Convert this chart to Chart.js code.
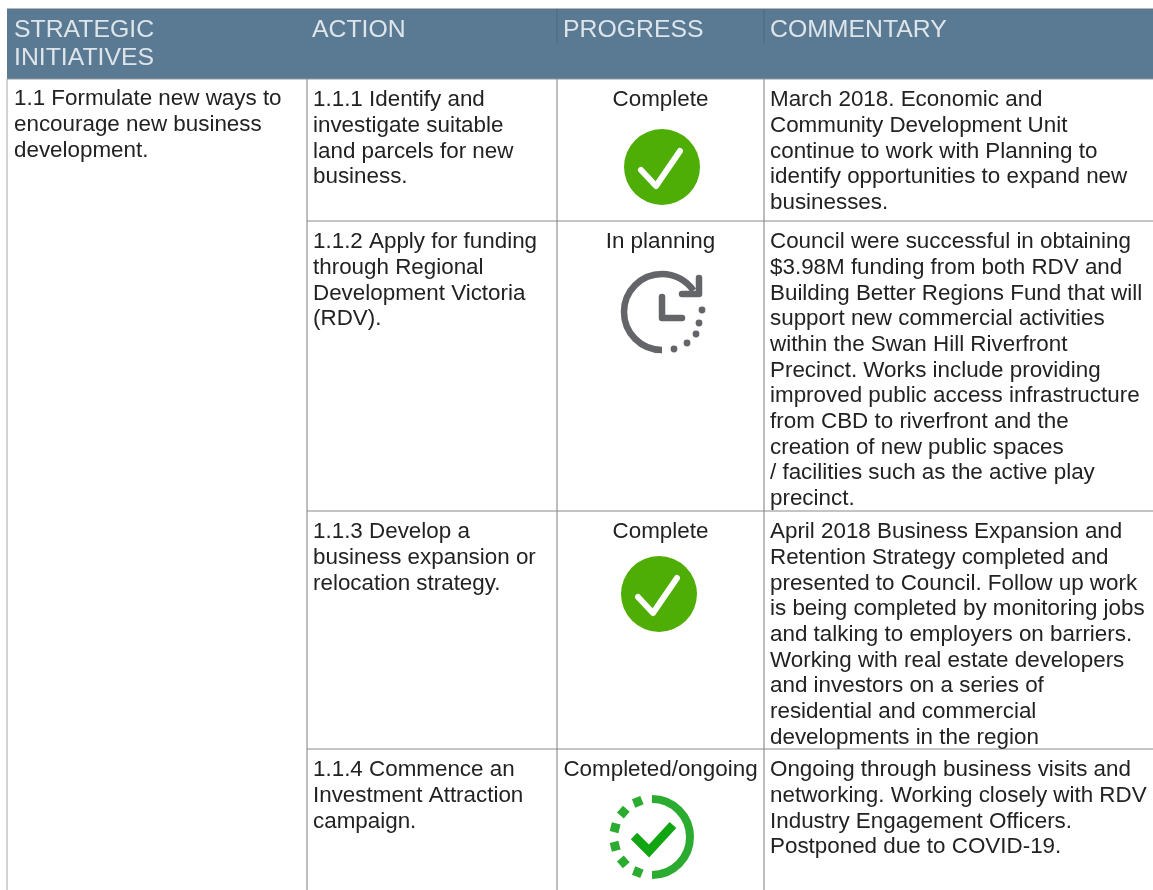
<!DOCTYPE html>
<html>
<head>
<meta charset="utf-8">
<title>Strategic initiatives</title>
<script src="https://cdn.jsdelivr.net/npm/chart.js@4"></script>
<style>
html,body{margin:0;padding:0;background:#fff;overflow:hidden}
canvas{display:block;filter:blur(.55px)}
</style>
</head>
<body>
<canvas id="table" width="1153" height="890"></canvas>
<script>
// table layout, in picture units
const colEdges=[7,307,557,764,1153];
const rowEdges=[79,221,511,749,890];
const headerTop=9;

const headers=[["STRATEGIC","INITIATIVES"],["ACTION"],["PROGRESS"],["COMMENTARY"]];
const initiative=["1.1 Formulate new ways to","encourage new business","development."];
const actions=[
  ["1.1.1 Identify and","investigate suitable","land parcels for new","business."],
  ["1.1.2 Apply for funding","through Regional","Development Victoria","(RDV)."],
  ["1.1.3 Develop a","business expansion or","relocation strategy."],
  ["1.1.4 Commence an","Investment Attraction","campaign."]
];
const progress=["Complete","In planning","Complete","Completed/ongoing"];
const commentary=[
  ["March 2018. Economic and","Community Development Unit","continue to work with Planning to","identify opportunities to expand new","businesses."],
  ["Council were successful in obtaining","$3.98M funding from both RDV and","Building Better Regions Fund that will","support new commercial activities","within the Swan Hill Riverfront","Precinct. Works include providing","improved public access infrastructure","from CBD to riverfront and the","creation of new public spaces","/ facilities such as the active play","precinct."],
  ["April 2018 Business Expansion and","Retention Strategy completed and","presented to Council. Follow up work","is being completed by monitoring jobs","and talking to employers on barriers.","Working with real estate developers","and investors on a series of","residential and commercial","developments in the region"],
  ["Ongoing through business visits and","networking. Working closely with RDV","Industry Engagement Officers.","Postponed due to COVID-19."]
];
const iconKinds=["done","planning","done","ongoing"];
const iconCentres=[[662,167],[662,312],[659,594],[652,837]];

const FONT='"Liberation Sans", Arial, sans-serif';

function iconCanvas(kind){
  const c=document.createElement("canvas"); c.width=c.height=100;
  const g=c.getContext("2d"); g.translate(50,50); g.lineCap="round"; g.lineJoin="round";
  if(kind==="done"){
    g.fillStyle="#4fae05"; g.beginPath(); g.arc(0,0,38,0,Math.PI*2); g.fill();
    g.strokeStyle="#fff"; g.lineWidth=6; g.beginPath(); g.moveTo(-21,3); g.lineTo(-6,19); g.lineTo(18,-16); g.stroke();
  } else if(kind==="planning"){
    g.strokeStyle=g.fillStyle="#636569"; g.lineWidth=6.5;
    g.lineCap="butt"; g.beginPath(); g.arc(0,0,38,Math.PI/2,Math.PI*1.81); g.stroke(); g.lineCap="round";
    g.beginPath(); g.moveTo(37,-34); g.lineTo(37,-18); g.lineTo(20,-18); g.stroke();
    g.beginPath(); g.moveTo(0,-15); g.lineTo(0,6); g.lineTo(20,6); g.stroke();
    [[40,-2],[37,11],[34,22],[25,31],[12,37]].forEach(([x,y])=>{ g.beginPath(); g.arc(x,y,3.4,0,Math.PI*2); g.fill(); });
  } else {
    g.strokeStyle="#2bab2f"; g.fillStyle="#2bab2f"; g.lineWidth=8; g.lineCap="butt";
    g.beginPath(); g.arc(0,0,38,-Math.PI/2,Math.PI/2); g.stroke();
    [-112,-139,-166,166,139,112].forEach(a=>{
      g.save(); g.rotate(a*Math.PI/180); g.fillRect(33.5,-4.5,9,9); g.restore();
    });
    g.strokeStyle="#12a512"; g.lineWidth=9; g.lineCap="butt"; g.lineJoin="miter";
    g.beginPath(); g.moveTo(-18,-1); g.lineTo(-3,14); g.lineTo(21,-12); g.stroke();
  }
  return c;
}

// vertical and horizontal rules, null breaks the line between segments
const colRules=[];
colEdges.slice(1,4).forEach(x=>{
  colRules.push({x,y:rowEdges[0]},{x,y:rowEdges[4]},{x:null,y:null});
});
const leftRule=[{x:colEdges[0],y:rowEdges[0]},{x:colEdges[0],y:rowEdges[4]}];
const rowRules=[];
rowEdges.slice(1,4).forEach(y=>{
  rowRules.push({x:colEdges[1],y},{x:colEdges[4],y},{x:null,y:null});
});

const headerSeps=[];
colEdges.slice(2,4).forEach(x=>{ headerSeps.push({x,y:headerTop},{x,y:43},{x:null,y:null}); });
const headerTopEdge=[{x:colEdges[0],y:headerTop},{x:colEdges[4],y:headerTop}];
const headerBottomEdge=[{x:colEdges[0],y:rowEdges[0]},{x:colEdges[4],y:rowEdges[0]}];

const textPlugin={
  id:"tableText",
  afterDatasetsDraw(chart){
    const {ctx,scales:{x,y}}=chart;
    const line=(s,px,py,align)=>{ ctx.textAlign=align||"left"; ctx.fillText(s,x.getPixelForValue(px),y.getPixelForValue(py)); };
    ctx.save();
    ctx.textBaseline="middle";
    ctx.font="24.8px "+FONT; ctx.fillStyle="#dde5ea";
    const headX=[14,312,563,770];
    headers.forEach((rows,i)=>rows.forEach((s,j)=>line(s,headX[i],30+j*28.5)));
    ctx.font="22.4px "+FONT; ctx.fillStyle="#222";
    const pitch=25.7;
    initiative.forEach((s,j)=>line(s,14,99+j*pitch));
    rowEdges.slice(0,4).forEach((top,r)=>{
      actions[r].forEach((s,j)=>line(s,313,top+21+j*pitch));
      line(progress[r],(colEdges[2]+colEdges[3])/2,top+21,"center");
      commentary[r].forEach((s,j)=>line(s,770,top+21+j*pitch));
    });
    ctx.restore();
  }
};

const segment=(data,color,width,order)=>({data,showLine:true,borderColor:color,borderWidth:width,pointRadius:0,spanGaps:false,order});

new Chart(document.getElementById("table"),{
  type:"scatter",
  data:{datasets:[
    {data:iconCentres.map(([x,y])=>({x,y})),pointStyle:iconKinds.map(iconCanvas),pointRadius:20,showLine:false,order:0},
    segment(colRules,"#b4b4b4",1,2),
    segment(leftRule,"#cccccc",1,2),
    segment(rowRules,"#8a8a8a",1,1),
    segment(headerSeps,"#4f6f88",1.5,1),
    segment(headerTopEdge,"#66757f",1.2,1),
    segment(headerBottomEdge,"#8f9aa3",1,1),
    {data:headerTopEdge,showLine:true,borderWidth:0,pointRadius:0,fill:{value:rowEdges[0]},backgroundColor:"#5a7a93",order:3}
  ]},
  options:{
    responsive:false,animation:false,events:[],
    layout:{padding:0,autoPadding:false},
    plugins:{legend:{display:false},tooltip:{enabled:false}},
    scales:{
      x:{type:"linear",min:0,max:1153,display:false},
      y:{type:"linear",min:0,max:890,reverse:true,display:false}
    }
  },
  plugins:[textPlugin]
});
</script>
</body>
</html>
